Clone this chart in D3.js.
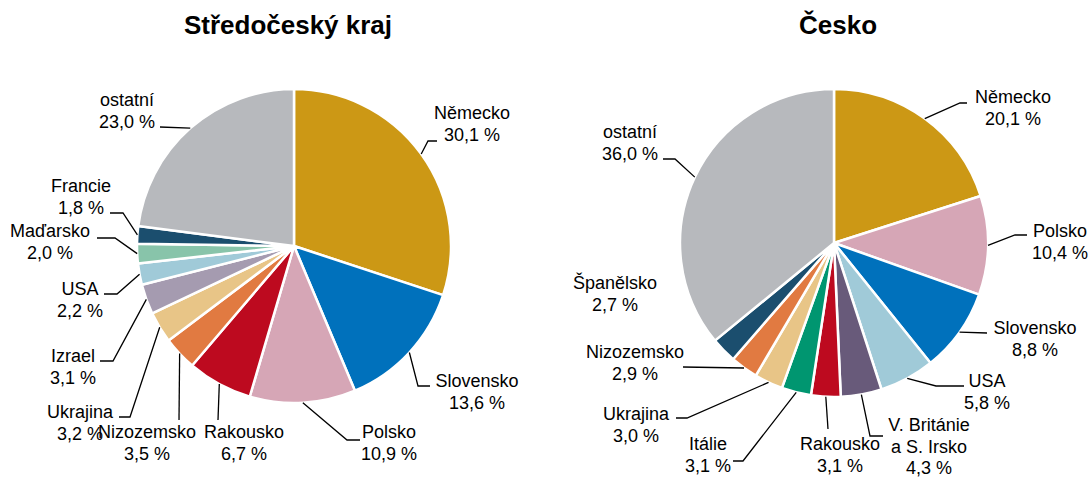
<!DOCTYPE html>
<html><head><meta charset="utf-8">
<script src="https://cdn.jsdelivr.net/npm/d3@7"></script>
<style>
body{margin:0;background:#fff;}
svg{display:block;font-family:"Liberation Sans",Arial,sans-serif;}
</style></head>
<body><svg id="c" width="1091" height="477"></svg>
<script>
// ---- data ----
const titles = ["Středočeský kraj", "Česko"];
const leftNames  = ["Německo","Slovensko","Polsko","Rakousko","Nizozemsko","Ukrajina","Izrael","USA","Maďarsko","Francie","ostatní"];
const leftValues = [30.1, 13.6, 10.9, 6.7, 3.5, 3.2, 3.1, 2.2, 2.0, 1.8, 23.0];
const rightNames  = ["Německo","Polsko","Slovensko","USA","V. Británie\na S. Irsko","Rakousko","Itálie","Ukrajina","Nizozemsko","Španělsko","ostatní"];
const rightValues = [20.1, 10.4, 8.8, 5.8, 4.3, 3.1, 3.1, 3.0, 2.9, 2.7, 36.0];

// ---- styles ----
const colorMap = {
  "Německo":"#CC9815","Slovensko":"#0071BC","Polsko":"#D6A6B6","Rakousko":"#BD0A1F",
  "Nizozemsko":"#E17A41","Ukrajina":"#E8C587","Izrael":"#A59BB0","USA":"#A0CAD8",
  "Maďarsko":"#88C4AA","Francie":"#1B4E6E","Španělsko":"#1B4E6E","ostatní":"#B7B9BD",
  "V. Británie\na S. Irsko":"#685A7A","Itálie":"#009670"
};

// ---- layout (label anchor: centre x, first baseline; leader: elbow points after arc start) ----
const leftLayout = [
  {lx:472, ly:119, pts:[[428,141],[437,141]]},
  {lx:477, ly:387, pts:[[418,386],[430,386]]},
  {lx:389, ly:438, pts:[[347,440],[360,440]]},
  {lx:244, ly:438, pts:[[218,420]]},
  {lx:147, ly:438, pts:[[179,420]]},
  {lx:80,  ly:418, pts:[[130,417],[119,417]]},
  {lx:73,  ly:362, pts:[[113,361],[100,361]]},
  {lx:80,  ly:295, pts:[[117,294],[104,294]]},
  {lx:50,  ly:237, pts:[[115,238],[97,238]]},
  {lx:81,  ly:192, pts:[[123,213],[110,213]]},
  {lx:127, ly:106, pts:[[160,127]]}
];
const rightLayout = [
  {lx:1013, ly:103, pts:[[960,103],[967,103]]},
  {lx:1060, ly:237, pts:[[1015,235],[1027,235]]},
  {lx:1035, ly:334, pts:[[987,333]]},
  {lx:987,  ly:387, pts:[[936,386],[964,386]]},
  {lx:929,  ly:431, pts:[[870,436],[883,436]]},
  {lx:840,  ly:450, pts:[[828,429]]},
  {lx:708,  ly:450, pts:[[743,461],[733,461]]},
  {lx:636,  ly:420, pts:[[687,418],[676,418]]},
  {lx:635,  ly:358, pts:[[683,367]]},
  {lx:615,  ly:289, pts:null},
  {lx:630,  ly:138, pts:[[675,159],[663,159]]}
];

const svg = d3.select("#c");
const fmt = v => d3.format(".1f")(v).replace(".", ",") + " %";

function drawPie(names, values, layout, cx, cy, r, title, titleX){
  svg.append("text").attr("x", titleX).attr("y", 34).attr("text-anchor","middle")
     .attr("font-weight","bold").attr("font-size", 26).attr("fill","#000").text(title);
  const data = names.map((n,i)=>({name:n, value:values[i], lay:layout[i]}));
  const pie = d3.pie().value(d=>d.value).sort(null);
  const arcs = pie(data);
  const arc = d3.arc().innerRadius(0).outerRadius(r);
  const g = svg.append("g").attr("transform", `translate(${cx},${cy})`);
  g.selectAll("path").data(arcs).join("path")
    .attr("d", arc).attr("fill", d=>colorMap[d.data.name])
    .attr("stroke","#fff").attr("stroke-width",2.5).attr("stroke-linejoin","round");
  const outer = d3.arc().innerRadius(r).outerRadius(r);
  arcs.forEach(a=>{
    const L = a.data.lay;
    if (L.pts){
      const c = outer.centroid(a);
      const p = [[cx+c[0], cy+c[1]], ...L.pts];
      svg.append("path").attr("d", d3.line()(p)).attr("fill","none")
         .attr("stroke","#000").attr("stroke-width",1.3);
    }
    const lines = a.data.name.split("\n").concat([fmt(a.data.value)]);
    const t = svg.append("text").attr("text-anchor","middle").attr("font-size",18).attr("fill","#000");
    lines.forEach((s,i)=>{
      t.append("tspan").attr("x", L.lx).attr("y", L.ly + i*21.5).text(s);
    });
  });
}

drawPie(leftNames, leftValues, leftLayout, 294, 246, 157, titles[0], 288);
drawPie(rightNames, rightValues, rightLayout, 834, 243, 154, titles[1], 838);
</script></body></html>
